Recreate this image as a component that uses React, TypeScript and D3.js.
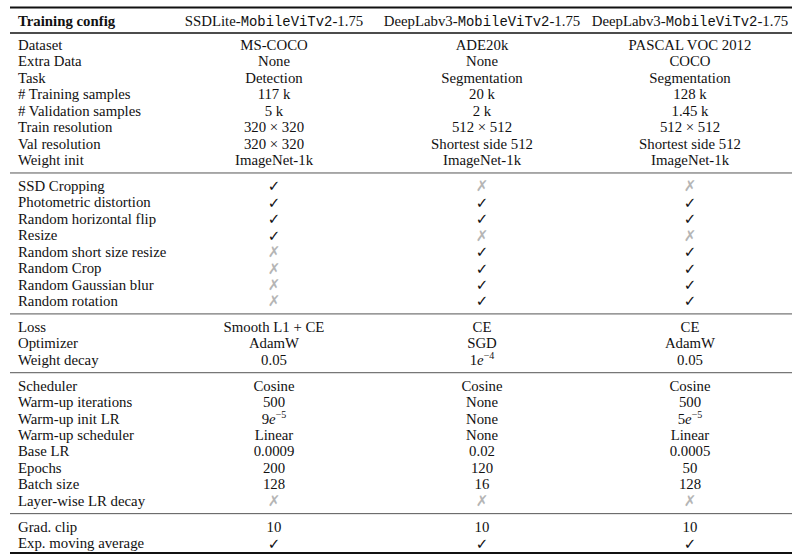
import React from "react";
import * as d3 from "d3";

// header columns: [prefix (serif), mono part, suffix (serif)]
const models = [
  ["SSDLite-", "MobileViTv2", "-1.75"],
  ["DeepLabv3-", "MobileViTv2", "-1.75"],
  ["DeepLabv3-", "MobileViTv2", "-1.75"],
];

const groupSizes = [8, 8, 3, 8, 2];

const rowLabels = [
  "Dataset", "Extra Data", "Task", "# Training samples", "# Validation samples",
  "Train resolution", "Val resolution", "Weight init",
  "SSD Cropping", "Photometric distortion", "Random horizontal flip", "Resize",
  "Random short size resize", "Random Crop", "Random Gaussian blur", "Random rotation",
  "Loss", "Optimizer", "Weight decay",
  "Scheduler", "Warm-up iterations", "Warm-up init LR", "Warm-up scheduler",
  "Base LR", "Epochs", "Batch size", "Layer-wise LR decay",
  "Grad. clip", "Exp. moving average",
];

// "Y" = check, "N" = cross, "e:9:−5" = 9e^-5
const ssdValues = [
  "MS-COCO", "None", "Detection", "117 k", "5 k", "320 × 320", "320 × 320", "ImageNet-1k",
  "Y", "Y", "Y", "Y", "N", "N", "N", "N",
  "Smooth L1 + CE", "AdamW", "0.05",
  "Cosine", "500", "e:9:−5", "Linear", "0.0009", "200", "128", "N",
  "10", "Y",
];
const adeValues = [
  "ADE20k", "None", "Segmentation", "20 k", "2 k", "512 × 512", "Shortest side 512", "ImageNet-1k",
  "N", "Y", "Y", "N", "Y", "Y", "Y", "Y",
  "CE", "SGD", "e:1:−4",
  "Cosine", "None", "None", "None", "0.02", "120", "16", "N",
  "10", "Y",
];
const vocValues = [
  "PASCAL VOC 2012", "COCO", "Segmentation", "128 k", "1.45 k", "512 × 512", "Shortest side 512", "ImageNet-1k",
  "N", "Y", "Y", "N", "Y", "Y", "Y", "Y",
  "CE", "AdamW", "0.05",
  "Cosine", "500", "e:5:−5", "Linear", "0.0005", "50", "128", "N",
  "10", "Y",
];

const columns = [ssdValues, adeValues, vocValues];

const serif = "'Liberation Serif', 'Times New Roman', serif";
const mono = "'Liberation Mono', 'DejaVu Sans Mono', monospace";
const fs = 14.8;
const base = 5; // baseline offset below row centre

function Cell({ v, x, y }: { v: string; x: number; y: number }) {
  if (v === "Y" || v === "N") {
    return (
      <text x={x} y={y + base + 0.5} textAnchor="middle"
        fontFamily="'DejaVu Sans', sans-serif" fontSize={15}
        fill={v === "Y" ? "#111" : "#b5b5b5"}>
        {v === "Y" ? "✓" : "✗"}
      </text>
    );
  }
  if (v.startsWith("e:")) {
    const [, b, exp] = v.split(":");
    return (
      <text x={x} y={y + base} textAnchor="middle"
        fontFamily={serif} fontSize={fs} fill="#111">
        {b}
        <tspan fontStyle="italic">e</tspan>
        <tspan fontSize={10} dy={-6}>{exp}</tspan>
      </text>
    );
  }
  return (
    <text x={x} y={y + base} textAnchor="middle"
      fontFamily={serif} fontSize={fs} fill="#111">
      {v}
    </text>
  );
}

export default function App() {
  const width = 802;
  const height = 557;
  const left = 10;
  const right = 792;
  const labelX = 18;
  const rowH = 16.43;
  const gap = 9.5;

  const colX = d3.scaleLinear().domain([0, 2]).range([274, 690]);

  // group index of every row
  const groupOf: number[] = [];
  groupSizes.forEach((n, g) => d3.range(n).forEach(() => groupOf.push(g)));

  const rowY = (i: number) => 45 + i * rowH + groupOf[i] * gap;

  const headerY = 21;
  const starts = Array.from(d3.cumsum(groupSizes));
  const midRules = starts.slice(0, -1).map((s) => (rowY(s - 1) + rowY(s)) / 2);

  return (
    <svg width={width} height={height} style={{ position: "absolute", left: 0, top: 0 }}>
      <rect width={width} height={height} fill="#fff" />
      {/* top rule */}
      <line x1={left} x2={right} y1={7.5} y2={7.5} stroke="#111" strokeWidth={2} />
      <text x={labelX} y={headerY + base} fontFamily={serif}
        fontSize={fs} fontWeight="bold" fill="#111">
        Training config
      </text>
      {models.map((m, j) => (
        <text key={j} x={colX(j)} y={headerY + base} textAnchor="middle"
          fontFamily={serif} fontSize={fs} fill="#111">
          {m[0]}
          <tspan fontFamily={mono} fontSize={13.9}>{m[1]}</tspan>
          {m[2]}
        </text>
      ))}
      <line x1={left} x2={right} y1={33} y2={33} stroke="#111" strokeWidth={1.4} />

      {midRules.map((y, k) => (
        <line key={k} x1={left} x2={right} y1={y} y2={y} stroke="#555" strokeWidth={1} />
      ))}

      {rowLabels.map((lab, i) => (
        <text key={lab} x={labelX} y={rowY(i) + base}
          fontFamily={serif} fontSize={fs} fill="#111">
          {lab}
        </text>
      ))}

      {columns.map((col, j) =>
        col.map((v, i) => <Cell key={j + "-" + i} v={v} x={colX(j)} y={rowY(i)} />)
      )}

      {/* bottom rule */}
      <line x1={left} x2={right} y1={553} y2={553} stroke="#111" strokeWidth={2} />
    </svg>
  );
}
